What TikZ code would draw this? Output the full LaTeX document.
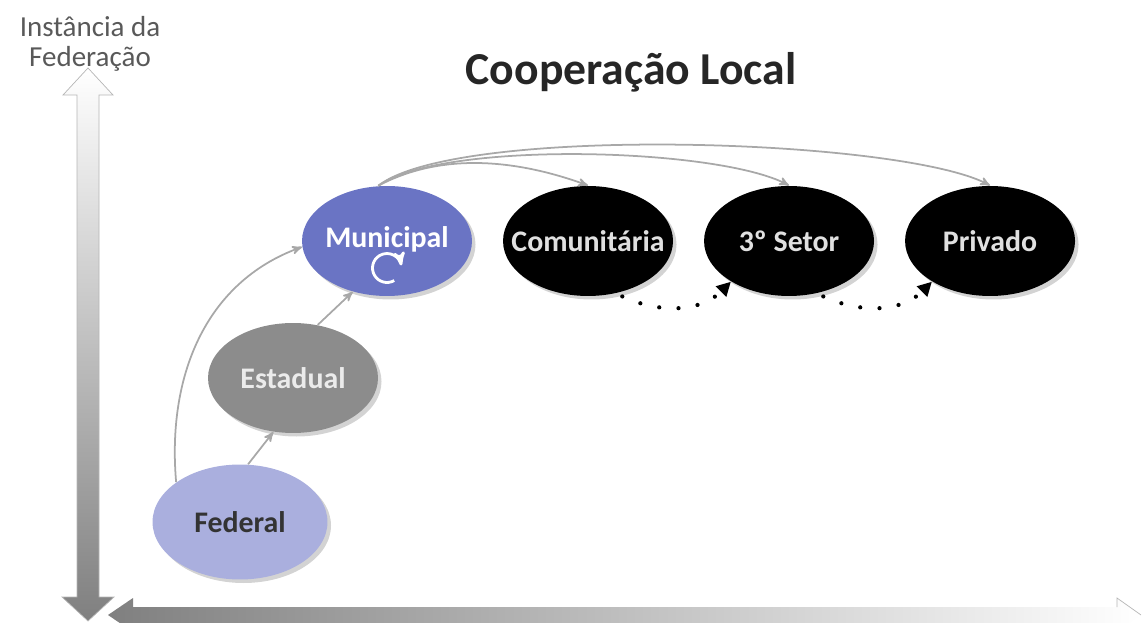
\documentclass[tikz,border=0pt]{standalone}
\usepackage{fontspec}
\setmainfont{Carlito}
\usepackage{tikz}
\usetikzlibrary{arrows,arrows.meta,positioning,shadows,shapes.geometric}

\definecolor{fedcor}{RGB}{170,175,222}
\definecolor{estcor}{RGB}{140,140,140}
\definecolor{muncor}{RGB}{106,116,196}
\definecolor{ligcor}{RGB}{168,168,168}
\definecolor{eixocor}{RGB}{150,150,150}

\newcommand{\rotulo}[1]{\makebox[0pt]{#1}}

\begin{document}
\begin{tikzpicture}[x=0.02cm,y=0.02cm,>=stealth',semithick,
	esfera/.style={ellipse,minimum width=3.4cm,minimum height=2.2cm,inner sep=0pt,font=\bfseries\fontsize{17}{19}\selectfont,drop shadow={shadow xshift=2pt,shadow yshift=-2pt,opacity=0.35}},
	liga/.style={->,draw=ligcor,line width=1pt},
	pontos/.style={-{Triangle[length=8pt,width=8pt]},line width=2.4pt,line cap=round,dash pattern=on 0pt off 11pt,shorten <=4pt}]
	\useasboundingbox (0,0) rectangle (1142,622);

	% eixos
	\shade[top color=white,bottom color=eixocor!85!black] (88,554) -- (113,527) -- (99,527) -- (99,25) -- (114,25) -- (88,1) -- (62,25) -- (77,25) -- (77,527) -- (63,527) -- cycle;
	\draw[eixocor!70,thin] (88,554) -- (113,527) -- (99,527) -- (99,25) -- (114,25) -- (88,1) -- (62,25) -- (77,25) -- (77,527) -- (63,527) -- cycle;
	\shade[left color=eixocor!85!black,right color=white] (108,7) -- (133,24) -- (133,15) -- (1117,15) -- (1117,24) -- (1141,7) -- (1117,-10) -- (1117,-1) -- (133,-1) -- (133,-10) -- cycle;
	\draw[eixocor!70,thin] (1117,15) -- (1117,24) -- (1141,7);

	\node[align=center,text=black!65,font=\fontsize{16.5}{17}\selectfont]	(eixo)	at (90,578)		{Instância da\\Federação};
	\node[text=black!85,font=\bfseries\fontsize{26}{30}\selectfont]		(titulo)	at (631,550)	{Cooperação Local};

	% esferas
	\node[esfera,fill=fedcor,text=black!80,minimum width=3.5cm,minimum height=2.3cm]	(fed)	at (240,100)	{\rotulo{Federal}};
	\node[esfera,fill=estcor,text=white!92!black]			(est)	at (293,244)		{\rotulo{Estadual}};
	\node[esfera,fill=muncor,text=white]					(mun)	at (387,381)		{\rotulo{\raisebox{4pt}{Municipal}}};
	\node[esfera,fill=black,text=white!88!black]			(com)	[right=0.6cm of mun]	{\rotulo{Comunitária}};
	\node[esfera,fill=black,text=white!88!black]			(ter)	[right=0.6cm of com]	{\rotulo{3º Setor}};
	\node[esfera,fill=black,text=white!88!black]			(pri)	[right=0.6cm of ter]	{\rotulo{Privado}};

	\draw[white,line width=1.6pt,->] ([yshift=-0.54cm]mun.center) ++(-60:0.29cm) arc[start angle=-60,end angle=-350,radius=0.29cm];

	\path
		(fed.82)	edge	[liga]							(est.-110)
		(est.65)	edge	[liga]							(mun.-124)
		(fed.148)	edge	[liga,out=95,in=200]				(mun.184)
		(mun.99)	edge	[liga,out=28,in=160,looseness=0.9]	(com.north)
		(mun.99)	edge	[liga,out=35,in=152,looseness=0.5]	(ter.north)
		(mun.99)	edge	[liga,out=38,in=152,looseness=0.42]	(pri.north)
		(com.-62)	edge	[pontos,out=-25,in=-135]			(ter.-145)
		(ter.-62)	edge	[pontos,out=-25,in=-135]			(pri.-145)
	;
\end{tikzpicture}
\end{document}
